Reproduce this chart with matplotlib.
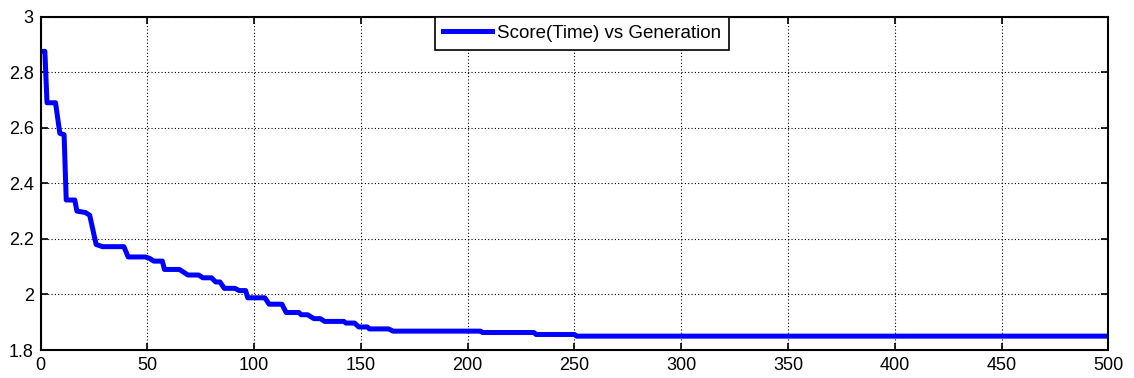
import matplotlib
matplotlib.use('Agg')
import matplotlib.pyplot as plt

# best score per generation
generation = [1, 2, 3, 7, 9, 11, 12, 16, 17, 21, 23, 26, 29, 39, 41, 49,
              51, 53, 57, 58, 65, 67, 69, 74, 76, 80, 82, 84, 86, 91, 93, 96,
              97, 105, 107, 113, 115, 121, 122, 125, 128, 131, 133, 142, 143, 147,
              149, 153, 154, 163, 165, 206, 207, 231, 232, 250, 251, 499]
score = [2.875, 2.875, 2.69, 2.69, 2.58, 2.575, 2.34, 2.34, 2.30, 2.295, 2.285, 2.18,
         2.172, 2.172, 2.135, 2.135, 2.13, 2.12, 2.12, 2.09, 2.09, 2.08, 2.07, 2.07,
         2.06, 2.06, 2.045, 2.045, 2.022, 2.022, 2.014, 2.014, 1.988, 1.988, 1.965, 1.965,
         1.935, 1.935, 1.927, 1.927, 1.913, 1.913, 1.903, 1.903, 1.897, 1.897,
         1.883, 1.883, 1.876, 1.876, 1.868, 1.868, 1.863, 1.863, 1.856, 1.856, 1.85, 1.85]

xticks = [0, 50, 100, 150, 200, 250, 300, 350, 400, 450, 500]
yticks = [1.8, 2.0, 2.2, 2.4, 2.6, 2.8, 3.0]
ytick_labels = ['1.8', '2', '2.2', '2.4', '2.6', '2.8', '3']
legend_label = 'Score(Time) vs Generation'

plt.rcParams['font.family'] = ['Liberation Sans', 'DejaVu Sans']

fig = plt.figure(figsize=(11.34, 3.78), dpi=100)
ax = fig.add_axes([0.0358, 0.074, 0.9416, 0.882])

ax.plot(generation, score, color='#0000ff', linewidth=3.6, label=legend_label)

ax.set_xlim(0, 500)
ax.set_ylim(1.8, 3.0)
ax.set_xticks(xticks)
ax.set_yticks(yticks)
ax.set_yticklabels(ytick_labels)
ax.tick_params(direction='in', top=True, right=True, labelsize=13, length=5, width=1.2, pad=5)
ax.grid(True, color='black', linestyle=(0, (1, 2)), linewidth=0.8)
for sp in ax.spines.values():
    sp.set_linewidth(1.5)
    sp.set_color('black')

leg = ax.legend(loc='upper center', bbox_to_anchor=(0.5073, 1.0), fontsize=13.5,
                fancybox=False, framealpha=1, edgecolor='black', borderpad=0.42,
                handlelength=2.6, handletextpad=0.3, borderaxespad=0)
leg.get_frame().set_linewidth(1.2)

fig.savefig('out.png', dpi=100)
